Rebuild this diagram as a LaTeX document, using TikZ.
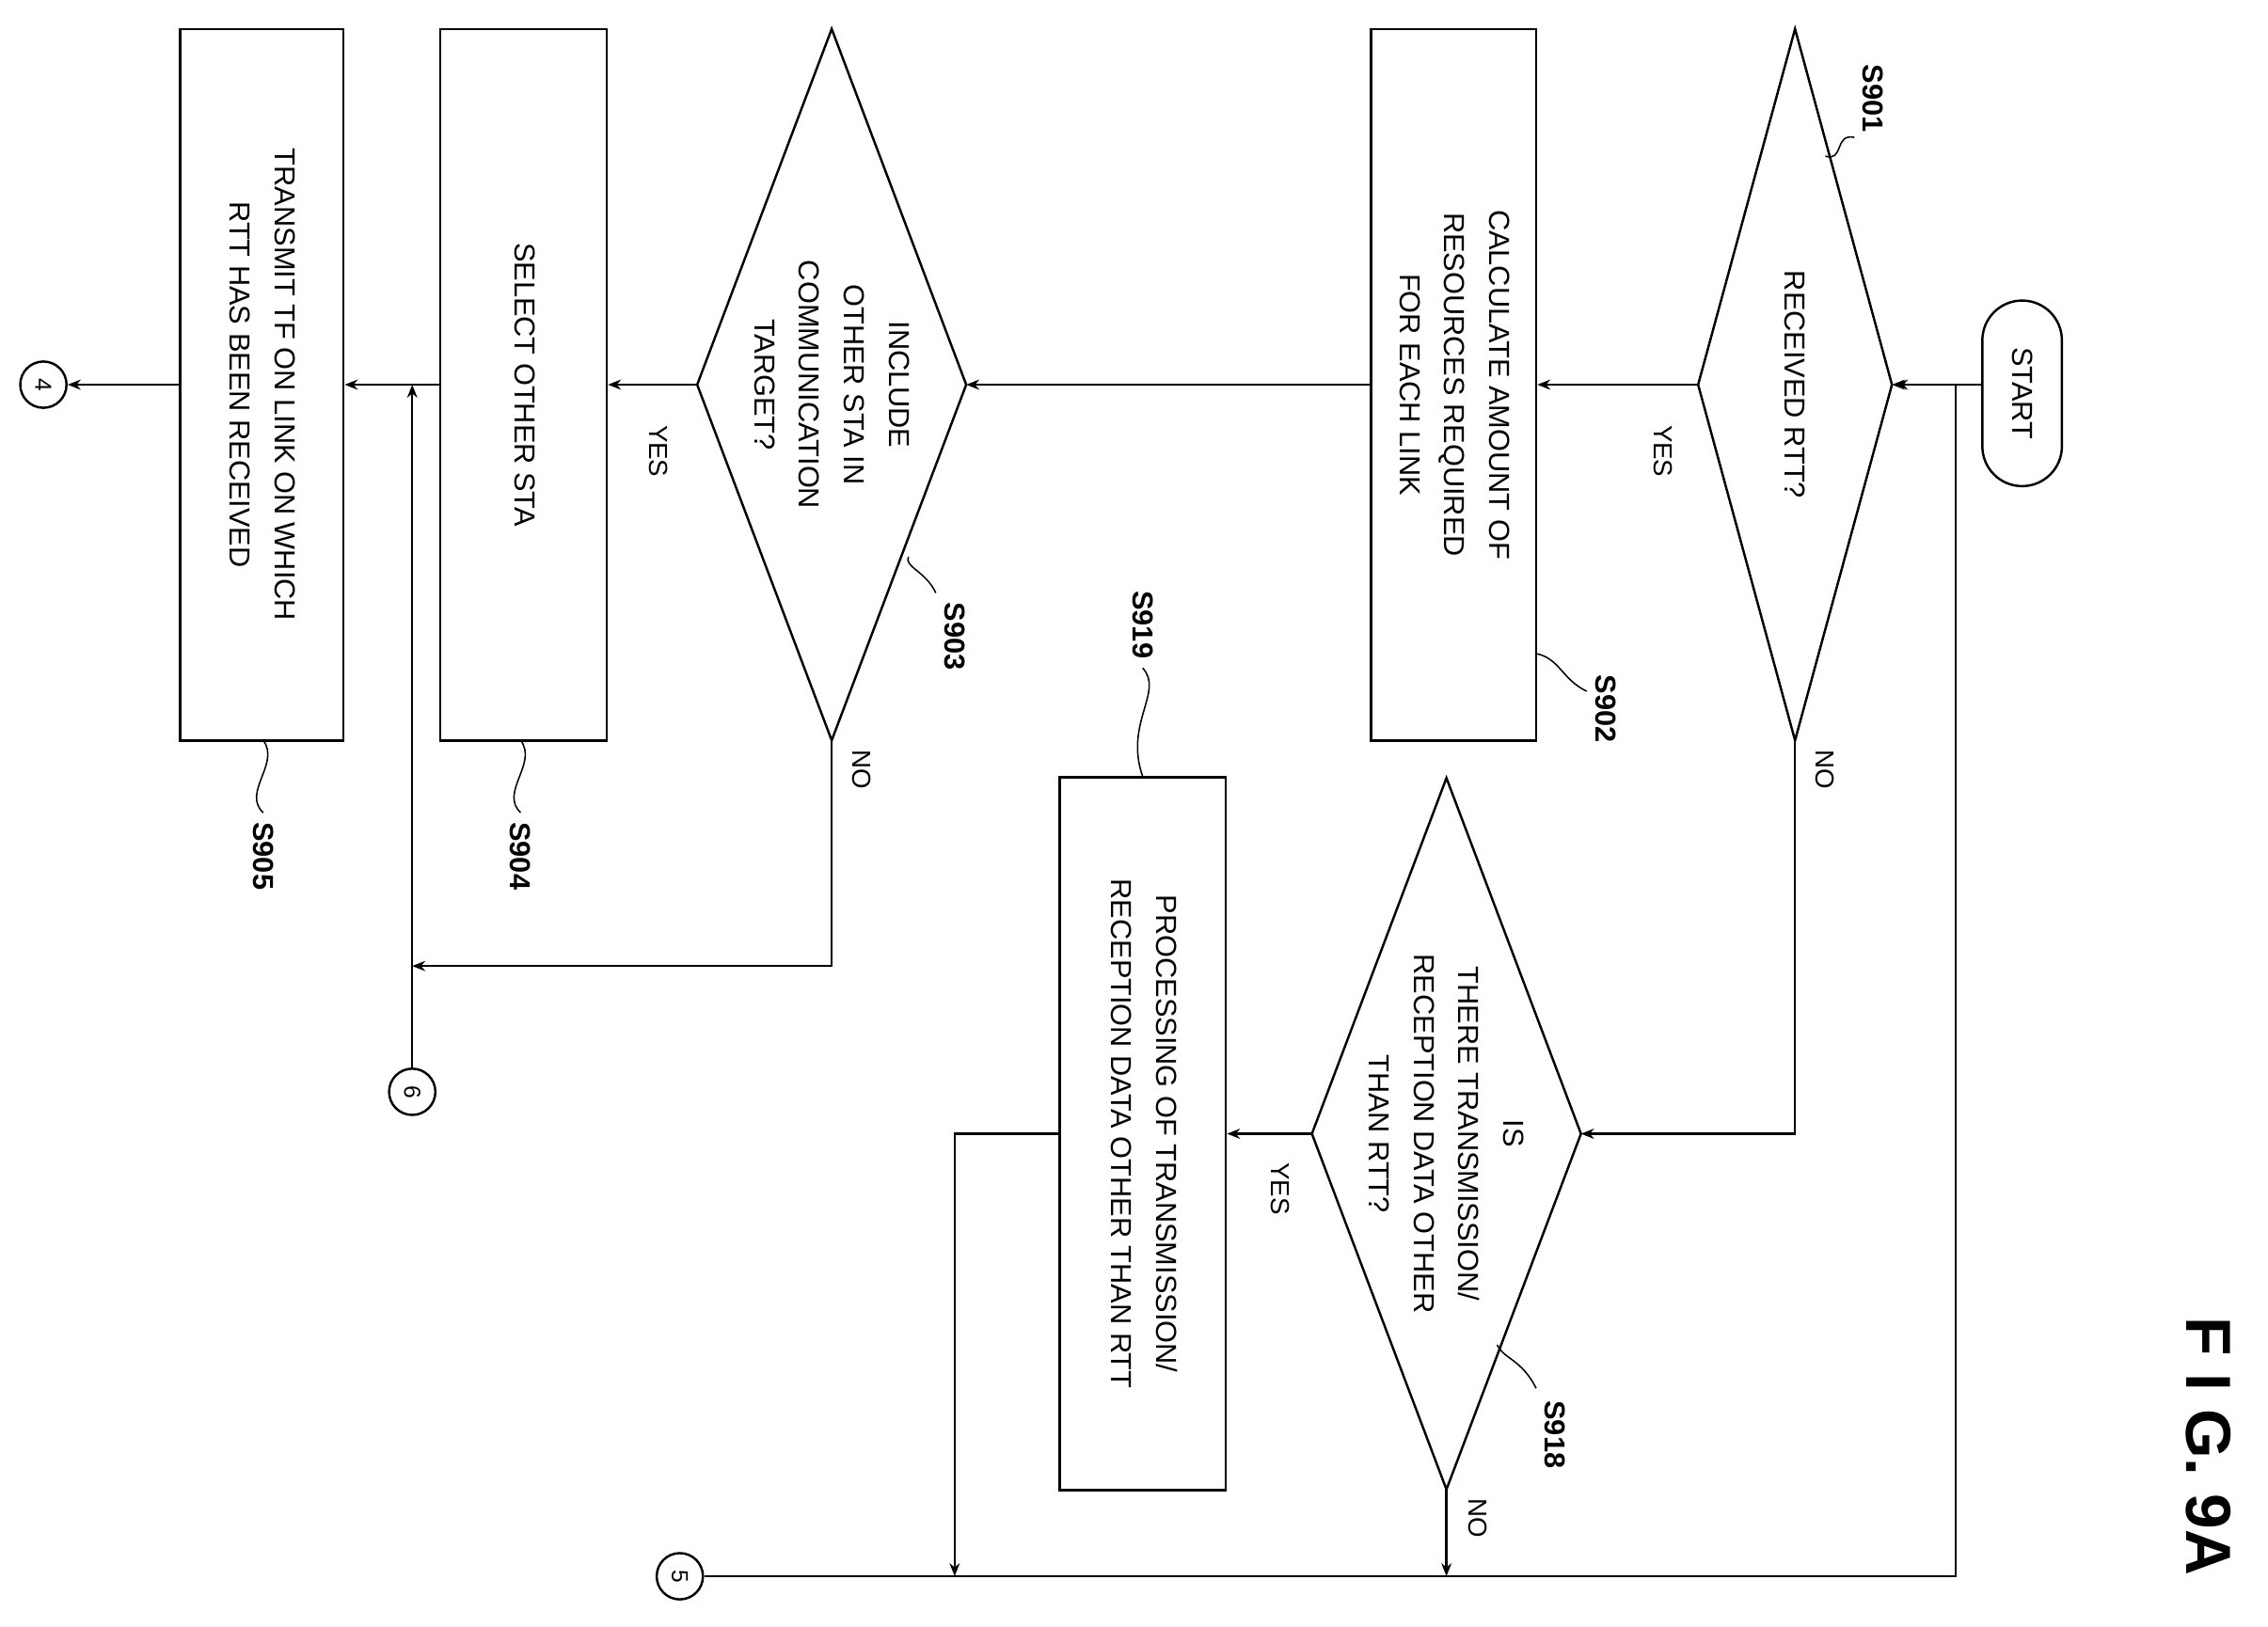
\documentclass[tikz,border=0pt]{standalone}
\usepackage{fontspec}
\setmainfont{Liberation Sans}
\usetikzlibrary{arrows.meta,shapes.misc}
\begin{document}
\begin{tikzpicture}[x=1pt,y=-1pt,line width=1.6pt,
  >={Stealth[length=9pt,width=7pt,open]},
  t/.style={rotate=-90,align=center,font=\fontsize{20}{31}\selectfont},
  bx/.style={draw,inner sep=0pt,font=\fontsize{20}{31}\selectfont},
  lab/.style={rotate=-90,font=\fontsize{20}{24}\selectfont\bfseries},
  yn/.style={rotate=-90,font=\fontsize{18}{22}\selectfont},
  circ/.style={draw,circle,minimum size=32pt,inner sep=0pt,font=\fontsize{16}{18}\selectfont},
  sq/.style={line width=1pt}]
\useasboundingbox (0,0) rectangle (1568,1125);
\newcommand{\rt}[1]{\rotatebox{-90}{\begin{tabular}{@{}c@{}}#1\end{tabular}}}
% START
\node[draw,rounded rectangle,rotate=-90,minimum width=135pt,minimum height=55pt,font=\fontsize{20}{31}\selectfont] (start) at (1398,272) {START};
\coordinate (startL) at (1370,266);
% decisions
\newcommand{\dia}[5]{% name, cx, cy, halfw, halfh
  \coordinate (#1) at (#2,#3);
  \coordinate (#1r) at ({#2+#4},#3); \coordinate (#1l) at ({#2-#4},#3);
  \coordinate (#1t) at (#2,{#3-#5}); \coordinate (#1b) at (#2,{#3+#5});
  \draw (#1r)--(#1t)--(#1l)--(#1b)--cycle;}
\dia{d901}{1241}{266}{67}{246}
\dia{d903}{575}{266}{93}{246}
\dia{d918}{1000}{784}{93}{246}
\node[t] at (d901) {RECEIVED RTT?};
\node[t] at (d903) {INCLUDE\\OTHER STA IN\\COMMUNICATION\\TARGET?};
\node[t] at (d918) {IS\\THERE TRANSMISSION/\\RECEPTION DATA OTHER\\THAN RTT?};
% boxes
\node[bx,minimum width=114pt,minimum height=492pt] (b902) at (1005,266) {\rt{CALCULATE AMOUNT OF\\RESOURCES REQUIRED\\FOR EACH LINK}};
\node[bx,minimum width=115pt,minimum height=492pt] (b904) at (362,266) {\rt{SELECT OTHER STA}};
\node[bx,minimum width=113pt,minimum height=492pt] (b905) at (181,266) {\rt{TRANSMIT TF ON LINK ON WHICH\\RTT HAS BEEN RECEIVED}};
\node[bx,minimum width=115pt,minimum height=493pt] (b919) at (790,784) {\rt{PROCESSING OF TRANSMISSION/\\RECEPTION DATA OTHER THAN RTT}};
% connectors
\node[circ] (c4) at (30,266) {\rotatebox{-90}{4}};
\node[circ] (c5) at (470,1090) {\rotatebox{-90}{5}};
\node[circ] (c6) at (285,755) {\rotatebox{-90}{6}};
\coordinate (loopA) at (1352,1090);
\coordinate (loopB) at (1352,266);
\draw[->] (startL) -- (d901r);
\draw[->] (c5) -- (loopA) -- (loopB) -- (1310,266);
\draw[->] (d901l) -- (b902.east);
\draw[->] (b902.west) -- (d903r);
\draw[->] (d903l) -- (b904.east);
\draw[->] (b904.west) -- (b905.east);
\draw[->] (b905.west) -- (c4);
\coordinate (j6) at (285,266);
\draw[->] (c6) -- (j6);
\draw[->] (d903b) -- (575,668) -- (285,668);
\draw[->] (d901b) -- (1241,784) -- (d918r);
\draw[->] (d918l) -- (b919.east);
\draw[->] (d918b) -- (1000,1090);
\draw[->] (b919.west) -- (660,784) -- (660,1090);
% yes/no
\node[yn] at (1150,312) {YES};
\node[yn] at (455,312) {YES};
\node[yn] at (885,822) {YES};
\node[yn] at (1262,532) {NO};
\node[yn] at (596,532) {NO};
\node[yn] at (1022,1050) {NO};
% step labels
\node[lab] (l901) at (1295,68) {S901};
\draw[sq] (1282,95) .. controls (1268,92) and (1275,112) .. (1262,108);
\node[lab] (l902) at (1110,490) {S902};
\draw[sq] (1097,478) .. controls (1080,470) and (1078,455) .. (1062,452);
\node[lab] (l903) at (660,440) {S903};
\draw[sq] (647,410) .. controls (640,395) and (625,392) .. (628,385);
\node[lab] (l904) at (360,592) {S904};
\draw[sq] (360,562) .. controls (345,548) and (372,528) .. (360,512);
\node[lab] (l905) at (182,592) {S905};
\draw[sq] (182,562) .. controls (167,548) and (194,528) .. (182,512);
\node[lab] (l919) at (790,432) {S919};
\draw[sq] (790,462) .. controls (805,478) and (777,500) .. (790,537);
\node[lab] (l918) at (1075,992) {S918};
\draw[sq] (1062,960) .. controls (1052,940) and (1040,940) .. (1035,930);
\node[rotate=-90,font=\fontsize{44}{50}\selectfont\bfseries] (fig) at (1527,1000) {F I G. 9A};
\end{tikzpicture}
\end{document}
